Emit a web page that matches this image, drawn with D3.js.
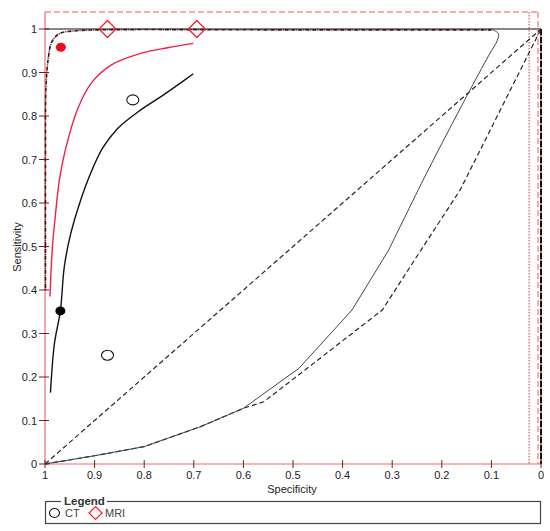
<!DOCTYPE html>
<html><head><meta charset="utf-8">
<script src="https://cdn.jsdelivr.net/npm/d3@7"></script>
<style>body{margin:0;background:#fff}svg{display:block;font-family:"Liberation Sans",Arial,sans-serif}</style>
</head><body><svg id="c" width="550" height="531"></svg>
<script>
// ---- data (specificity, sensitivity) ----
const xTicks = [1,0.9,0.8,0.7,0.6,0.5,0.4,0.3,0.2,0.1,0];
const yTicks = [0,0.1,0.2,0.3,0.4,0.5,0.6,0.7,0.8,0.9,1];
const ctCurve = [[0.989,0.164],[0.981,0.277],[0.969,0.352],[0.961,0.454],[0.948,0.53],[0.928,0.607],[0.911,0.66],[0.884,0.726],[0.853,0.772],[0.807,0.814],[0.767,0.844],[0.733,0.871],[0.701,0.897]];
const mriCurve = [[0.99,0.385],[0.985,0.5],[0.98,0.561],[0.971,0.653],[0.959,0.722],[0.935,0.814],[0.907,0.875],[0.867,0.917],[0.807,0.944],[0.753,0.957],[0.701,0.967]];
const ctStudies = [[0.823,0.837],[0.874,0.25]];
const mriStudies = [[0.874,1.0],[0.694,1.0]];
const ctSummary = [0.969,0.352];
const mriSummary = [0.968,0.958];
const regionLower = [[1,0],[0.90,0.019],[0.80,0.04],[0.686,0.086],[0.60,0.128],[0.488,0.22],[0.381,0.354],[0.307,0.492]];
const regionUpper = [[0.307,0.492],[0.23,0.67],[0.15,0.845],[0.105,0.94],[0.088,0.974],[0.086,0.99],[0.10,0.999]];
const regionDashDot = [[0.10,0.998],[0.5,0.998],[0.895,0.998],[0.936,0.996],[0.97,0.99],[0.986,0.971],[0.993,0.936],[0.998,0.867],[0.999,0.7],[0.999,0.4]];
const diagDashed = [[1,0],[0,1]];
const predDashed = [[1,0],[0.90,0.019],[0.80,0.04],[0.686,0.086],[0.60,0.128],[0.559,0.143],[0.485,0.208],[0.32,0.354],[0.243,0.49],[0.163,0.63],[0.0,1.0]];
const redDottedSpec = [0.024];

const svg = d3.select("#c");
const x = d3.scaleLinear().domain([1,0]).range([45,541]);
const y = d3.scaleLinear().domain([0,1]).range([464,29]);
const line = d3.line().x(d=>x(d[0])).y(d=>y(d[1]));
const smooth = d3.line().x(d=>x(d[0])).y(d=>y(d[1])).curve(d3.curveCatmullRom.alpha(0.5));

// frame (red)
svg.append("line").attr("x1",45).attr("x2",538).attr("y1",12).attr("y2",12)
  .attr("stroke","#f0555a").attr("stroke-width",1).attr("stroke-dasharray","6,3");
svg.append("line").attr("x1",538).attr("x2",538).attr("y1",12).attr("y2",464)
  .attr("stroke","#f0555a").attr("stroke-width",1).attr("stroke-dasharray","6,3");
svg.append("line").attr("x1",45).attr("x2",45).attr("y1",12).attr("y2",464)
  .attr("stroke","#ee6a6a").attr("stroke-width",1.2);
svg.append("line").attr("x1",45).attr("x2",541).attr("y1",464).attr("y2",464)
  .attr("stroke","#ee6a6a").attr("stroke-width",1.2);
redDottedSpec.forEach(s=>{
  svg.append("line").attr("x1",x(s)).attr("x2",x(s)).attr("y1",12).attr("y2",464)
    .attr("stroke","#e0303a").attr("stroke-width",1).attr("stroke-dasharray","1.5,1.5");
});

// y=1 reference line
svg.append("line").attr("x1",x(1)).attr("x2",x(0)).attr("y1",y(1)).attr("y2",y(1))
  .attr("stroke","#111").attr("stroke-width",1.2);
// right edge
svg.append("line").attr("x1",x(0)).attr("x2",x(0)).attr("y1",y(1)).attr("y2",464)
  .attr("stroke","#7a1010").attr("stroke-width",1);
svg.append("line").attr("x1",x(0)).attr("x2",x(0)).attr("y1",y(1)).attr("y2",464)
  .attr("stroke","#111").attr("stroke-width",2).attr("stroke-dasharray","6,2");

// dashed lines
svg.append("path").attr("d",line(diagDashed)).attr("fill","none")
  .attr("stroke","#1d2a30").attr("stroke-width",1.2).attr("stroke-dasharray","5,3");
svg.append("path").attr("d",line(predDashed)).attr("fill","none")
  .attr("stroke","#1d2a30").attr("stroke-width",1.2).attr("stroke-dasharray","5,3");

// region
svg.append("path").attr("d",line(regionLower)).attr("fill","none")
  .attr("stroke","#444").attr("stroke-width",1);
svg.append("path").attr("d",smooth(regionUpper)).attr("fill","none")
  .attr("stroke","#444").attr("stroke-width",1);
svg.append("path").attr("d",smooth(regionDashDot)).attr("fill","none")
  .attr("stroke","#3a1515").attr("stroke-width",1.6).attr("stroke-dasharray","4,1,1,1");

// SROC curves
svg.append("path").attr("d",smooth(mriCurve)).attr("fill","none")
  .attr("stroke","#f0204a").attr("stroke-width",1.4);
svg.append("path").attr("d",smooth(ctCurve)).attr("fill","none")
  .attr("stroke","#111").attr("stroke-width",1.4);

// ticks
xTicks.forEach(t=>{
  svg.append("line").attr("x1",x(t)).attr("x2",x(t)).attr("y1",460).attr("y2",468)
    .attr("stroke","#7a1a1a").attr("stroke-width",1);
  svg.append("text").attr("x",x(t)).attr("y",479).attr("text-anchor","middle")
    .attr("font-size",11).attr("fill","#222").text(d3.format("")(t));
});
yTicks.forEach(t=>{
  svg.append("line").attr("x1",39).attr("x2",49).attr("y1",y(t)).attr("y2",y(t))
    .attr("stroke","#7a1a1a").attr("stroke-width",1);
  svg.append("text").attr("x",37).attr("y",y(t)+4).attr("text-anchor","end")
    .attr("font-size",11).attr("fill","#222").text(d3.format("")(t));
});
svg.append("text").attr("x",292).attr("y",493).attr("text-anchor","middle")
  .attr("font-size",11).attr("fill","#222").text("Specificity");
svg.append("text").attr("transform","translate(21,247) rotate(-90)").attr("text-anchor","middle")
  .attr("font-size",11).attr("fill","#222").text("Sensitivity");

// markers
ctStudies.forEach(d=>{
  svg.append("ellipse").attr("cx",x(d[0])).attr("cy",y(d[1])).attr("rx",6).attr("ry",5)
    .attr("fill","none").attr("stroke","#111").attr("stroke-width",1.1);
});
mriStudies.forEach(d=>{
  const cx=x(d[0]), cy=y(d[1]), r=8.5;
  svg.append("path").attr("d",`M${cx},${cy-r}L${cx+r},${cy}L${cx},${cy+r}L${cx-r},${cy}Z`)
    .attr("fill","none").attr("stroke","#f0202a").attr("stroke-width",1.3);
});
svg.append("ellipse").attr("cx",x(ctSummary[0])).attr("cy",y(ctSummary[1])).attr("rx",5).attr("ry",4.5).attr("fill","#000");
svg.append("ellipse").attr("cx",x(mriSummary[0])).attr("cy",y(mriSummary[1])).attr("rx",5).attr("ry",4.5).attr("fill","#e8101a");

// legend
const lg = svg.append("g");
lg.append("rect").attr("x",45.5).attr("y",501.5).attr("width",495).attr("height",22)
  .attr("fill","#fff").attr("stroke","#444").attr("stroke-width",1.2);
lg.append("rect").attr("x",61).attr("y",495).attr("width",46).attr("height",10).attr("fill","#fff");
lg.append("text").attr("x",64).attr("y",504.5).attr("font-size",11.5).attr("font-weight","bold")
  .attr("fill","#333").text("Legend");
lg.append("ellipse").attr("cx",54.5).attr("cy",513).attr("rx",5).attr("ry",4.5)
  .attr("fill","none").attr("stroke","#111").attr("stroke-width",1.1);
lg.append("text").attr("x",65).attr("y",517).attr("font-size",11).attr("fill","#444").text("CT");
{
  const cx=95.5, cy=513, r=6.5;
  lg.append("path").attr("d",`M${cx},${cy-r}L${cx+r},${cy}L${cx},${cy+r}L${cx-r},${cy}Z`)
    .attr("fill","none").attr("stroke","#f0202a").attr("stroke-width",1.2);
}
lg.append("text").attr("x",105).attr("y",517).attr("font-size",11).attr("fill","#444").text("MRI");
</script></body></html>
